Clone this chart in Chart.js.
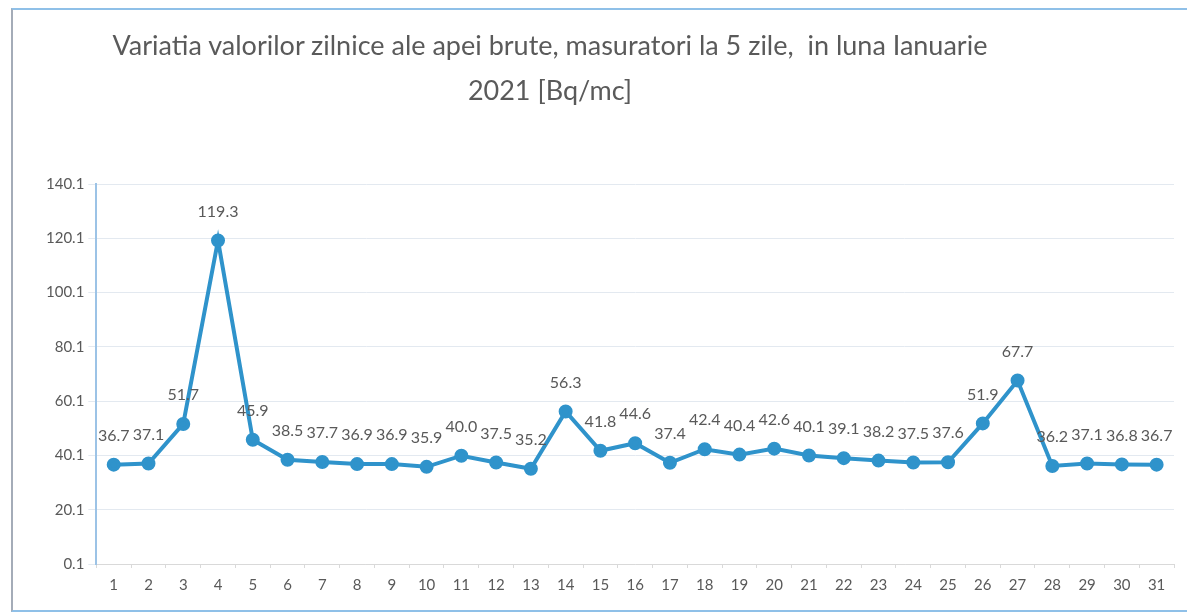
<!DOCTYPE html>
<html>
<head>
<meta charset="utf-8">
<script src="https://cdn.jsdelivr.net/npm/chart.js@4/dist/chart.umd.min.js"></script>
<style>
  html, body { margin: 0; padding: 0; background: #fff; }
  #wrap { position: relative; width: 1187px; height: 616px; }
  #frame {
    position: absolute; left: 11px; top: 8px; width: 1176px; height: 604px;
    border-top: 2px solid #8fc0e8; border-left: 2px solid #a4acb8;
    border-bottom: 2px solid #8fc0e8; box-sizing: border-box;
  }
  #title {
    position: absolute; left: 50px; width: 1000px; top: 22px;
    text-align: center; font-family: Lato, "Open Sans", sans-serif;
    font-size: 27px; line-height: 45px; color: #5a5a5a;
  }
  canvas { position: absolute; left: 0; top: 0; }
</style>
</head>
<body>
<div id="wrap">
  <div id="frame"></div>
  <canvas id="myChart" width="1187" height="616"></canvas>
  <div id="title">Variatia valorilor zilnice ale apei brute, masuratori la 5 zile,&nbsp; in luna Ianuarie<br>2021 [Bq/mc]</div>
</div>
<script>
const days = [
  '1', '2', '3', '4', '5', '6', '7', '8', '9', '10',
  '11', '12', '13', '14', '15', '16', '17', '18', '19', '20',
  '21', '22', '23', '24', '25', '26', '27', '28', '29', '30', '31'
];

// valori zilnice [Bq/mc]
const valori = [
  36.7, 37.1, 51.7, 119.3, 45.9, 38.5, 37.7, 36.9, 36.9, 35.9,
  40.0, 37.5, 35.2, 56.3, 41.8, 44.6, 37.4, 42.4, 40.4, 42.6,
  40.1, 39.1, 38.2, 37.5, 37.6, 51.9, 67.7, 36.2, 37.1, 36.8, 36.7
];

const yMin = 0.1;
const yMax = 140.1;
const yStep = 20;

const gri = '#595959';

// etichete cu valoarea deasupra fiecarui punct
const eticheteValori = {
  id: 'eticheteValori',
  afterDatasetsDraw(chart) {
    const ctx = chart.ctx;
    const meta = chart.getDatasetMeta(0);
    ctx.save();
    ctx.font = '16px Lato, "Open Sans", sans-serif';
    ctx.fillStyle = gri;
    ctx.textAlign = 'center';
    ctx.textBaseline = 'middle';
    meta.data.forEach((pt, i) => {
      ctx.fillText(valori[i].toFixed(1), pt.x, pt.y - 29);
    });
    ctx.restore();
  }
};

const config = {
  type: 'line',
  data: {
    labels: days,
    datasets: [{
      data: valori,
      borderColor: '#2f93cb',
      backgroundColor: '#2f93cb',
      borderWidth: 4,
      pointRadius: 5,
      pointHoverRadius: 5,
      tension: 0
    }]
  },
  options: {
    responsive: false,
    animation: false,
    layout: {
      padding: { left: 42, right: 13, top: 184, bottom: 14 }
    },
    plugins: {
      legend: { display: false },
      tooltip: { enabled: false }
    },
    scales: {
      x: {
        offset: true,
        grid: {
          display: true,
          drawOnChartArea: false,
          offset: true,
          tickLength: 4,
          color: '#d9d9d9'
        },
        border: { color: '#d9d9d9', width: 1 },
        ticks: {
          color: gri,
          font: { family: 'Lato, "Open Sans", sans-serif', size: 15 },
          padding: 8,
          maxRotation: 0,
          autoSkip: false
        }
      },
      y: {
        min: yMin,
        max: yMax,
        grid: {
          color: '#e3e9f0',
          tickLength: 8
        },
        border: { color: '#9cc3e6', width: 2 },
        ticks: {
          stepSize: yStep,
          color: gri,
          font: { family: 'Lato, "Open Sans", sans-serif', size: 15 },
          padding: 4,
          callback: (v) => Number(v).toFixed(1)
        },
        afterBuildTicks: (scale) => {
          const t = [];
          for (let v = yMin; v <= yMax + 0.001; v += yStep) t.push({ value: +v.toFixed(1) });
          scale.ticks = t;
        }
      }
    }
  },
  plugins: [eticheteValori]
};

const myChart = new Chart(document.getElementById('myChart'), config);
</script>
</body>
</html>
